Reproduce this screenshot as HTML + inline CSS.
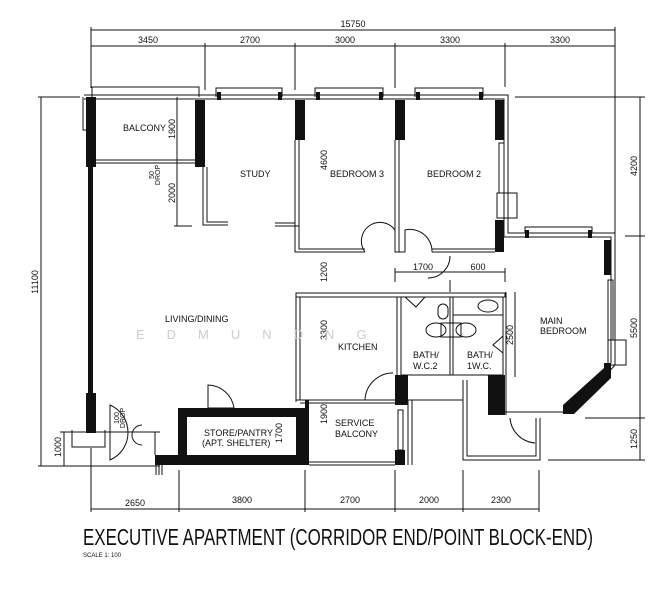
<!DOCTYPE html>
<html><head><meta charset="utf-8"><style>
html,body{margin:0;padding:0;background:#fff;width:661px;height:600px;overflow:hidden}
svg{display:block}
text{font-family:"Liberation Sans Narrow","Liberation Sans",sans-serif;fill:#111}
</style></head><body>
<svg width="661" height="600" viewBox="0 0 661 600" xmlns="http://www.w3.org/2000/svg">
<g stroke="#111" stroke-width="1" fill="none">
<!-- top dims -->
<line x1="91" y1="30" x2="615" y2="30"/>
<line x1="91" y1="46" x2="615" y2="46"/>
<line x1="91" y1="27" x2="91" y2="88"/>
<line x1="205" y1="43" x2="205" y2="90"/>
<line x1="295" y1="43" x2="295" y2="90"/>
<line x1="395" y1="43" x2="395" y2="88"/>
<line x1="505" y1="43" x2="505" y2="87"/>
<line x1="615" y1="27" x2="615" y2="234"/>
<!-- left dims -->
<line x1="41" y1="97" x2="41" y2="466"/>
<line x1="38" y1="97" x2="80" y2="97"/>
<line x1="38" y1="466" x2="160" y2="466"/>
<line x1="64" y1="432" x2="64" y2="466"/>
<line x1="60" y1="432" x2="75" y2="432"/>
<line x1="177" y1="97" x2="177" y2="226"/>
<line x1="174" y1="226" x2="192" y2="226"/>
<!-- right dims -->
<line x1="640" y1="97" x2="640" y2="460"/>
<line x1="515" y1="97" x2="645" y2="97"/>
<line x1="625" y1="236" x2="645" y2="236"/>
<line x1="585" y1="418" x2="645" y2="418"/>
<line x1="548" y1="460" x2="645" y2="460"/>
<line x1="515" y1="292" x2="515" y2="377"/>
<!-- 1700/600 -->
<line x1="395" y1="272" x2="505" y2="272"/>
<line x1="395" y1="268" x2="395" y2="282"/>
<line x1="505" y1="268" x2="505" y2="282"/>
<!-- bottom dims -->
<line x1="91" y1="509" x2="539" y2="509"/>
<line x1="91" y1="448" x2="91" y2="512"/>
<line x1="179" y1="470" x2="179" y2="512"/>
<line x1="305" y1="470" x2="305" y2="512"/>
<line x1="395" y1="470" x2="395" y2="512"/>
<line x1="463" y1="470" x2="463" y2="512"/>
<line x1="539" y1="470" x2="539" y2="512"/>
<!-- top wall double lines -->
<path d="M84 95 H508 V233 H615 V365 L573 412 H505"/>
<path d="M84 99 H504 V237 H611 V363 L571 408"/>
<!-- window frames top -->
<path d="M92 97 V87 H199 V97"/>
<path d="M216 97 V88 H282 V97"/>
<path d="M315 97 V88 H383 V97"/>
<path d="M415 97 V88 H483 V97"/>
<path d="M525 233 V227 H592 V233"/>
<path d="M83 97 V130 H88"/>
<!-- bedroom2 right window -->
<rect x="499" y="143" width="5" height="50"/>
<rect x="497" y="193" width="20" height="25"/>
<!-- main bedroom right window -->
<rect x="608" y="280" width="5" height="60"/>
<rect x="608" y="340" width="18" height="25"/>
<!-- balcony bottom -->
<line x1="96" y1="160" x2="195" y2="160"/>
<line x1="96" y1="163" x2="195" y2="163"/>
<!-- study -->
<path d="M203 167 V225 H228"/><path d="M207 167 V222 H228"/>
<path d="M275 223 H295"/><path d="M275 226 H299"/>
<!-- bedroom3 -->
<path d="M295 140 V252 H365"/><path d="M299 140 V249 H365"/>
<path d="M395 140 V252 H405"/><path d="M399 140 V252"/>
<path d="M432 252 H495"/><path d="M432 249 H495"/>
<path d="M365 252 A17 17 0 0 1 395 230"/>
<path d="M405 252 V230 A22 22 0 0 1 432 252"/>
<!-- main door arc -->
<path d="M450 256 A22 22 0 0 1 428 278"/>
<line x1="450" y1="280" x2="450" y2="292"/>
<!-- kitchen -->
<rect x="296" y="293" width="209" height="4"/>
<path d="M296 293 V402"/><path d="M300 297 V400"/>
<path d="M296 400 H395"/><path d="M300 403 H395"/>
<path d="M397 297 V375 M401 297 V375 M450 297 V375 M453 297 V375 M503 297 V415 M506 292 V415"/>
<line x1="401" y1="375" x2="503" y2="375"/>
<line x1="453" y1="315" x2="503" y2="315"/>
<path d="M365 400 A28 28 0 0 1 393 373"/>
<!-- bath fixtures -->
<ellipse cx="436" cy="330" rx="10" ry="7"/>
<ellipse cx="466" cy="330" rx="10" ry="7"/>
<rect x="441" y="323" width="20" height="14"/>
<rect x="438" y="304" width="10" height="15" rx="5"/>
<ellipse cx="488" cy="306" rx="10" ry="6"/>
<path d="M405 297 L416 307 L425 297"/>
<path d="M503 336 L493 345 L503 353"/>
<!-- service balcony -->
<path d="M305 408 V462 H395"/><path d="M309 465 H395"/>
<rect x="398" y="410" width="5" height="40"/>
<!-- lower corridor area -->
<path d="M408 400 V465 M412 400 V465 M408 400 H463 V398"/>
<path d="M463 380 V460 H540 V418 M467 380 V456 H536 V418"/>
<path d="M510 418 A27 27 0 0 0 535 443"/>
<!-- store door -->
<path d="M208 408 V385 A27 27 0 0 1 234 408"/>
<line x1="208" y1="408" x2="234" y2="408"/>
<!-- entrance -->
<path d="M68 432 H160 M72 430 V447 H105 V430"/>
<path d="M110 405 A30 30 0 0 1 110 460 Z"/>
<path d="M142 445 A10 10 0 0 1 142 425"/>
<line x1="155" y1="432" x2="155" y2="455"/>
<path d="M156 460 V475 M159 460 V475 M162 460 V475"/>
</g>
<!-- solid walls -->
<g fill="#111">
<rect x="86" y="97" width="10" height="70"/>
<rect x="88" y="167" width="5" height="226"/>
<rect x="86" y="393" width="10" height="40"/>
<rect x="195" y="100" width="10" height="67"/>
<rect x="295" y="100" width="10" height="40"/>
<rect x="395" y="100" width="10" height="40"/>
<rect x="495" y="100" width="9" height="40"/>
<rect x="495" y="220" width="9" height="32"/>
<rect x="217" y="92" width="4" height="8"/><rect x="278" y="92" width="4" height="8"/>
<rect x="316" y="92" width="4" height="8"/><rect x="379" y="92" width="4" height="8"/>
<rect x="416" y="92" width="4" height="8"/><rect x="479" y="92" width="4" height="8"/>
<rect x="525" y="230" width="4" height="8"/><rect x="588" y="230" width="4" height="8"/>
<rect x="604" y="240" width="7" height="35"/>
<path d="M604 363 H611 V378 L574 414 H563 V405 L604 368Z"/>
<path d="M178 408 H305 V400 H309 V465 H178Z M187 417 V455 H296 V417Z" fill-rule="evenodd"/>
<rect x="155" y="455" width="25" height="10"/>
<rect x="395" y="375" width="13" height="30"/>
<rect x="488" y="375" width="17" height="40"/>
<rect x="395" y="450" width="10" height="15"/>
</g>
<!-- labels -->
<g font-size="9">
<text x="148" y="43" text-anchor="middle">3450</text>
<text x="250" y="43" text-anchor="middle">2700</text>
<text x="345" y="43" text-anchor="middle">3000</text>
<text x="450" y="43" text-anchor="middle">3300</text>
<text x="560" y="43" text-anchor="middle">3300</text>
<text x="353" y="27" text-anchor="middle">15750</text>
<text x="135" y="512" text-anchor="middle" dy="-6">2650</text>
<text x="242" y="503" text-anchor="middle">3800</text>
<text x="350" y="503" text-anchor="middle">2700</text>
<text x="429" y="503" text-anchor="middle">2000</text>
<text x="501" y="503" text-anchor="middle">2300</text>
<text x="423" y="270" text-anchor="middle">1700</text>
<text x="478" y="270" text-anchor="middle">600</text>
<text x="123" y="131">BALCONY</text>
<text x="240" y="177">STUDY</text>
<text x="330" y="177">BEDROOM 3</text>
<text x="427" y="177">BEDROOM 2</text>
<text x="165" y="322">LIVING/DINING</text>
<text x="338" y="350">KITCHEN</text>
<text x="413" y="358">BATH/</text><text x="413" y="369">W.C.2</text>
<text x="467" y="358">BATH/</text><text x="467" y="369">1W.C.</text>
<text x="540" y="324">MAIN</text><text x="540" y="334">BEDROOM</text>
<text x="335" y="426">SERVICE</text><text x="335" y="437">BALCONY</text>
<text x="204" y="436">STORE/PANTRY</text>
<text x="202" y="446">(APT. SHELTER)</text>
</g>
<g font-size="9" text-anchor="middle">
<text transform="translate(175,129) rotate(-90)">1900</text>
<text transform="translate(175,193) rotate(-90)">2000</text>
<text transform="translate(154,175) rotate(-90)" font-size="7">50</text>
<text transform="translate(160,175) rotate(-90)" font-size="7">DROP</text>
<text transform="translate(327,160) rotate(-90)">4600</text>
<text transform="translate(327,272) rotate(-90)">1200</text>
<text transform="translate(327,330) rotate(-90)">3300</text>
<text transform="translate(327,414) rotate(-90)">1900</text>
<text transform="translate(282,433) rotate(-90)">1700</text>
<text transform="translate(513,335) rotate(-90)">2500</text>
<text transform="translate(637,166) rotate(-90)">4200</text>
<text transform="translate(637,328) rotate(-90)">5500</text>
<text transform="translate(637,439) rotate(-90)">1250</text>
<text transform="translate(38,282) rotate(-90)">11100</text>
<text transform="translate(61,447) rotate(-90)">1000</text>
<text transform="translate(119,418) rotate(-90)" font-size="7">100</text>
<text transform="translate(125,418) rotate(-90)" font-size="7">DROP</text>
</g>
<text x="136" y="339" font-size="13" fill="#ccc" style="fill:#ccc;letter-spacing:22px">EDMUNDNG</text>
<text x="83" y="545" font-size="23" textLength="510" lengthAdjust="spacingAndGlyphs" style="font-weight:300">EXECUTIVE APARTMENT (CORRIDOR END/POINT BLOCK-END)</text>
<text x="83" y="557" font-size="6">SCALE   1: 100</text>
</svg>
</body></html>
